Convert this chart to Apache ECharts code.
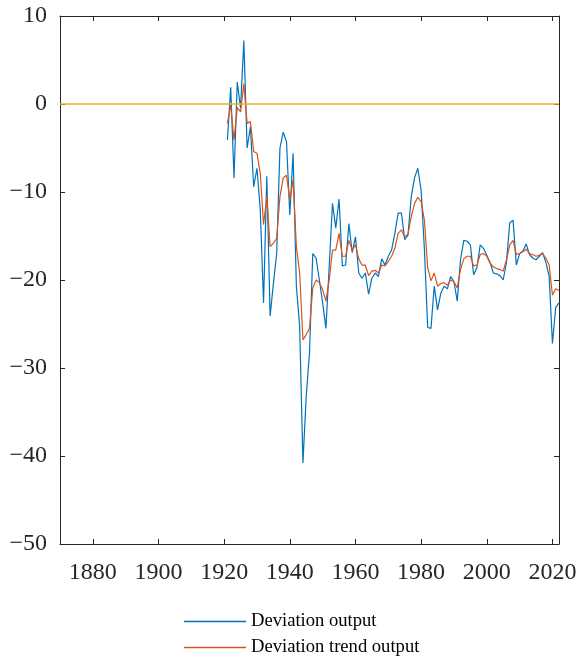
<!DOCTYPE html>
<html>
<head>
<meta charset="utf-8">
<script src="https://cdn.jsdelivr.net/npm/echarts@6/dist/echarts.min.js"></script>
<style>
html,body{margin:0;padding:0;background:#fff;}
#chart{width:577px;height:661px;}
</style>
</head>
<body>
<div id="chart"></div>
<script>
const startYear = 1921;
const deviationOutput = [
 -4.1, 1.9, -8.4, 2.5, -0.5, 7.2, -5.0, -2.6, -9.4, -7.3,
 -12.0, -22.6, -8.2, -24.1, -20.4, -17.0, -5.0, -3.2, -4.3, -12.6,
 -5.6, -20.7, -25.3, -40.8, -33.2, -28.3, -17.0, -17.5, -20.0, -22.6,
 -25.5, -18.5, -11.3, -14.1, -10.8, -18.4, -18.3, -13.6, -16.9, -15.1,
 -19.2, -19.8, -19.2, -21.6, -19.8, -19.2, -19.6, -17.6, -18.3, -17.3,
 -16.6, -14.7, -12.4, -12.4, -15.4, -14.9, -10.5, -8.4, -7.3, -9.8,
 -16.5, -25.4, -25.5, -20.7, -23.4, -21.5, -20.7, -21.0, -19.6, -20.2,
 -22.4, -17.7, -15.5, -15.6, -16.0, -19.4, -18.6, -16.0, -16.4, -17.2,
 -18.0, -19.2, -19.3, -19.5, -20.0, -18.0, -13.5, -13.2, -18.3, -17.0,
 -16.7, -15.9, -17.1, -17.5, -17.7, -17.3, -16.9, -18.0, -19.6, -27.2,
 -23.1, -22.6
];
const deviationTrend = [
 -2.2, -0.1, -4.1, -0.4, -0.9, 2.3, -2.2, -2.0, -5.4, -5.6,
 -7.9, -13.7, -10.5, -16.2, -15.8, -15.3, -10.5, -8.4, -8.1, -10.9,
 -8.6, -16.2, -19.2, -26.8, -26.2, -25.5, -20.9, -20.0, -20.3, -21.1,
 -22.4, -20.0, -16.6, -16.6, -14.7, -17.3, -17.3, -15.5, -16.6, -16.0,
 -17.6, -18.3, -18.3, -19.5, -19.0, -18.9, -19.2, -18.3, -18.4, -17.9,
 -17.3, -16.4, -14.7, -14.3, -15.1, -14.8, -12.8, -11.3, -10.6, -11.1,
 -13.2, -18.6, -20.1, -19.2, -20.7, -20.4, -20.3, -20.6, -20.0, -20.2,
 -20.9, -18.8, -17.6, -17.3, -17.3, -18.4, -18.3, -17.1, -17.0, -17.3,
 -18.1, -18.5, -18.7, -18.8, -19.0, -17.7, -16.0, -15.5, -17.1, -17.0,
 -16.8, -16.5, -17.0, -17.1, -17.3, -17.2, -17.0, -17.5, -18.3, -21.7,
 -21.0, -21.2
];
const xTicks = [1880, 1900, 1920, 1940, 1960, 1980, 2000, 2020];
const seriesNames = ['Deviation output', 'Deviation trend output'];
const referenceLevel = 0;

const FONT = 'Liberation Serif';
const AX = '#262626';
const toPairs = arr => arr.map((v, i) => [startYear + i, v]);

const chart = echarts.init(document.getElementById('chart'), null, {renderer: 'canvas'});
const xCommon = {
  type: 'value', min: 1870, max: 2022,
  axisLine: {show: true, onZero: false, lineStyle: {color: AX, width: 1}},
  axisTick: {show: true, inside: true, length: 5, customValues: xTicks, lineStyle: {color: AX}},
  splitLine: {show: false}
};
const yCommon = {
  type: 'value', min: -50, max: 10, interval: 10,
  axisLine: {show: true, onZero: false, lineStyle: {color: AX, width: 1}},
  axisTick: {show: true, inside: true, length: 5, lineStyle: {color: AX}},
  splitLine: {show: false}
};
chart.setOption({
  animation: false,
  backgroundColor: '#ffffff',
  grid: {left: 60, top: 16, width: 499, height: 528, containLabel: false, outerBoundsMode: 'none'},
  xAxis: [
    Object.assign({}, xCommon, {position: 'bottom',
      axisLabel: {show: true, customValues: xTicks, formatter: v => String(v), color: AX, fontFamily: FONT, fontSize: 24, margin: 17, hideOverlap: false}}),
    Object.assign({}, xCommon, {position: 'top', axisLabel: {show: false}})
  ],
  yAxis: [
    Object.assign({}, yCommon, {position: 'left',
      axisLabel: {show: true, color: AX, fontFamily: FONT, fontSize: 24, margin: 13,
        formatter: v => String(v).replace('-', '\u2212')}}),
    Object.assign({}, yCommon, {position: 'right', axisLabel: {show: false}})
  ],
  legend: {
    orient: 'vertical', left: 184, top: 612, height: 49, padding: 0,
    icon: 'rect', itemWidth: 62, itemHeight: 1.3, itemGap: 7,
    textStyle: {fontFamily: FONT, fontSize: 18.6, color: '#000', padding: [0, 0, 0, 0]},
    data: seriesNames
  },
  series: [
    {
      name: seriesNames[0], type: 'line', xAxisIndex: 0, yAxisIndex: 0,
      data: toPairs(deviationOutput), showSymbol: false, symbol: 'none',
      lineStyle: {color: '#0072BD', width: 1.2}, itemStyle: {color: '#0072BD'},
      z: 3,
      markLine: {
        silent: true, symbol: 'none', label: {show: false},
        lineStyle: {color: '#EDB120', width: 1.5, type: 'solid'},
        data: [{yAxis: referenceLevel}]
      }
    },
    {
      name: seriesNames[1], type: 'line', xAxisIndex: 0, yAxisIndex: 0,
      data: toPairs(deviationTrend), showSymbol: false, symbol: 'none',
      lineStyle: {color: '#D95319', width: 1.2}, itemStyle: {color: '#D95319'},
      z: 4
    }
  ]
});
</script>
</body>
</html>
